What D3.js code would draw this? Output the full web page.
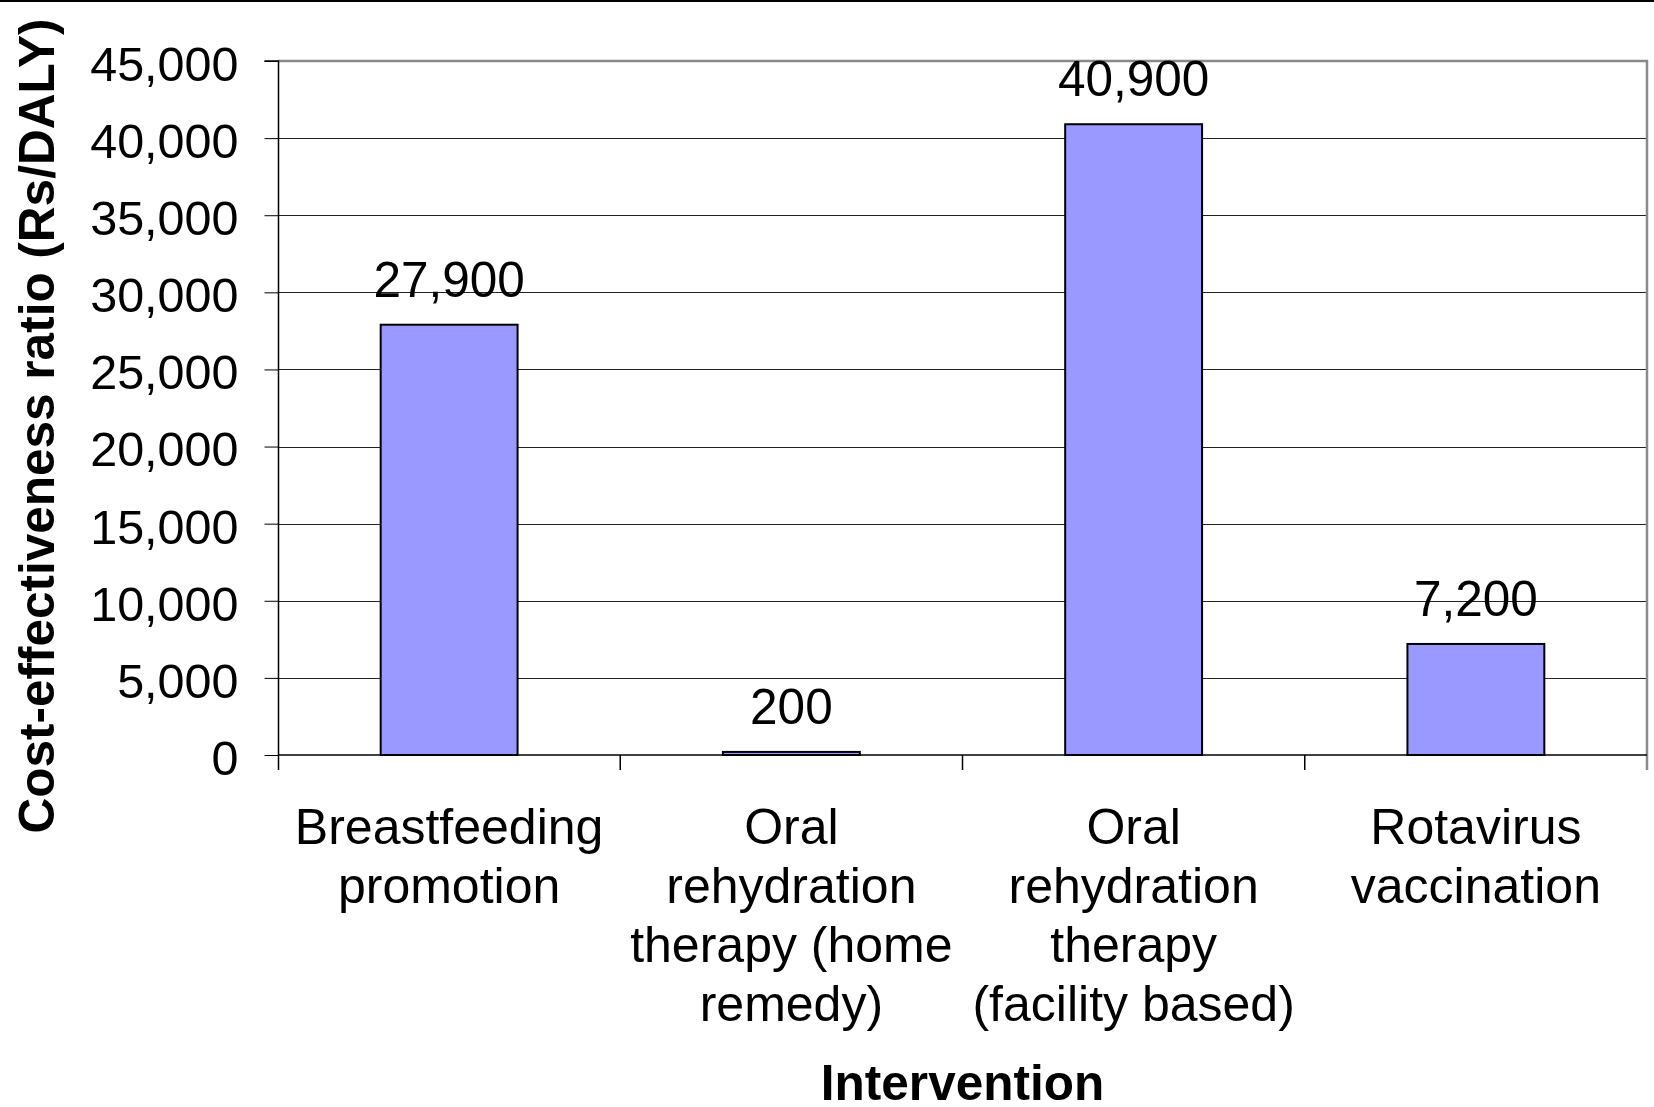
<!DOCTYPE html>
<html>
<head>
<meta charset="utf-8">
<script src="https://cdn.jsdelivr.net/npm/d3@7"></script>
<style>
  html, body { margin: 0; padding: 0; background: #fff; }
  svg { display: block; font-family: "Liberation Sans", Arial, sans-serif; }
</style>
</head>
<body>
<svg id="chart" width="1654" height="1107"></svg>
<script>
// Cost-effectiveness of diarrhoea interventions (Rs per DALY averted)
const categories = [
  ["Breastfeeding", "promotion"],
  ["Oral", "rehydration", "therapy (home", "remedy)"],
  ["Oral", "rehydration", "therapy", "(facility based)"],
  ["Rotavirus", "vaccination"]
];
const values = [27900, 200, 40900, 7200];
const yTicks = [0, 5000, 10000, 15000, 20000, 25000, 30000, 35000, 40000, 45000];
const xTitle = "Intervention";
const yTitle = "Cost-effectiveness ratio (Rs/DALY)";

const svg = d3.select("#chart");
const W = 1654, H = 1107;
const plot = { left: 278, right: 1647, top: 61, bottom: 755 };
const tickFont = 48.5, valueFont = 49.5, catFont = 50, titleFont = 49.5;

const keys = categories.map((c, i) => i);
const x = d3.scaleBand().domain(keys).range([plot.left, plot.right]).paddingInner(0).paddingOuter(0);
const y = d3.scaleLinear().domain([0, 45000]).range([plot.bottom, plot.top]);
const fmt = d3.format(",");

// top rule across the page
svg.append("line")
  .attr("x1", 0).attr("x2", W).attr("y1", 1).attr("y2", 1)
  .attr("stroke", "#000").attr("stroke-width", 2);

// horizontal gridlines
svg.append("g").selectAll("line")
  .data(yTicks.filter(t => t > 0 && t < 45000))
  .join("line")
  .attr("x1", plot.left).attr("x2", plot.right)
  .attr("y1", d => Math.round(y(d)) + 0.5).attr("y2", d => Math.round(y(d)) + 0.5)
  .attr("stroke", "#222").attr("stroke-width", 1);

// plot-area frame on top and right
svg.append("path")
  .attr("d", `M${plot.left},${plot.top} H${plot.right} V${plot.bottom + 15}`)
  .attr("fill", "none").attr("stroke", "#8a8a8a").attr("stroke-width", 2.5);

// bars
const barW = x.bandwidth() * 0.4;
svg.append("g").selectAll("rect")
  .data(values)
  .join("rect")
  .attr("x", (d, i) => x(i) + (x.bandwidth() - barW) / 2)
  .attr("y", d => y(d))
  .attr("width", barW)
  .attr("height", d => y(0) - y(d))
  .attr("fill", "#9999ff")
  .attr("stroke", "#000")
  .attr("stroke-width", 2);

// value labels
svg.append("g").selectAll("text")
  .data(values)
  .join("text")
  .attr("x", (d, i) => x(i) + x.bandwidth() / 2)
  .attr("y", d => y(d) - 28)
  .attr("text-anchor", "middle")
  .attr("font-size", valueFont)
  .attr("fill", "#000")
  .text(d => fmt(d));

// y axis
const yAxis = d3.axisLeft(y)
  .tickValues(yTicks)
  .tickSize(14)
  .tickPadding(26)
  .tickFormat(fmt);
const gy = svg.append("g")
  .attr("transform", `translate(${plot.left + 0.5},0)`)
  .call(yAxis);
gy.select(".domain").attr("stroke", "#000").attr("stroke-width", 1.5)
  .attr("d", `M-14,${plot.top}H0V${plot.bottom + 15}`);
gy.selectAll(".tick line").attr("stroke", "#000").attr("stroke-width", 1);
gy.selectAll(".tick text")
  .attr("font-size", tickFont)
  .attr("font-family", "Liberation Sans, Arial, sans-serif")
  .attr("fill", "#000")
  .attr("dy", "0.4em");

// x axis baseline and category separators
svg.append("line")
  .attr("x1", plot.left).attr("x2", plot.right)
  .attr("y1", y(0)).attr("y2", y(0))
  .attr("stroke", "#000").attr("stroke-width", 1.5);
svg.append("g").selectAll("line")
  .data(keys.slice(1))
  .join("line")
  .attr("x1", d => x(d)).attr("x2", d => x(d))
  .attr("y1", y(0)).attr("y2", y(0) + 15)
  .attr("stroke", "#000").attr("stroke-width", 1.5);

// category labels
const lineH = 59;
const cat = svg.append("g").selectAll("text")
  .data(categories)
  .join("text")
  .attr("text-anchor", "middle")
  .attr("font-size", catFont)
  .attr("fill", "#000");
cat.each(function (lines, i) {
  const t = d3.select(this);
  lines.forEach((ln, j) => {
    t.append("tspan")
      .attr("x", x(i) + x.bandwidth() / 2)
      .attr("y", 844 + j * lineH)
      .text(ln);
  });
});

// axis titles
svg.append("text")
  .attr("x", (plot.left + plot.right) / 2)
  .attr("y", 1100)
  .attr("text-anchor", "middle")
  .attr("font-size", titleFont)
  .attr("font-weight", "bold")
  .attr("fill", "#000")
  .text(xTitle);

svg.append("text")
  .attr("transform", "translate(54,426) rotate(-90)")
  .attr("text-anchor", "middle")
  .attr("font-size", titleFont)
  .attr("font-weight", "bold")
  .attr("fill", "#000")
  .text(yTitle);
</script>
</body>
</html>
